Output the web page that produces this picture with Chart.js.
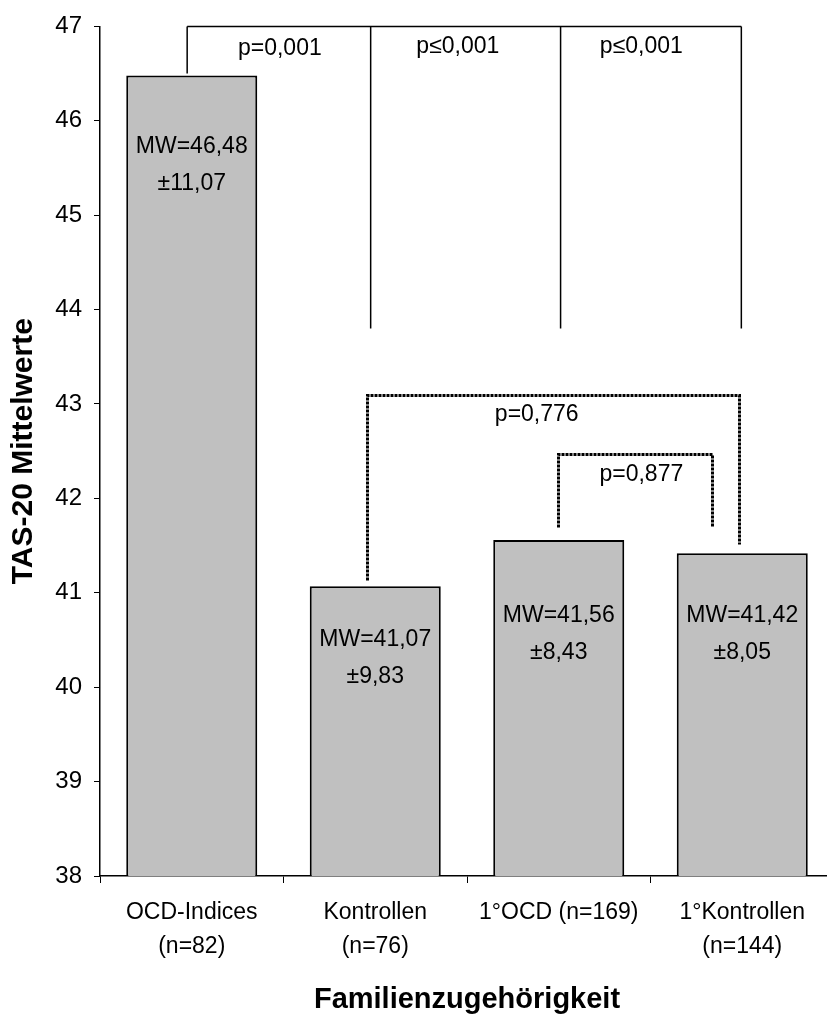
<!DOCTYPE html>
<html>
<head>
<meta charset="utf-8">
<script src="https://cdn.jsdelivr.net/npm/chart.js@4.4.0/dist/chart.umd.min.js"></script>
<style>
  html, body { margin: 0; padding: 0; background: #fff; overflow: hidden; }
  #wrap { width: 827px; height: 1019px; overflow: hidden; }
</style>
</head>
<body>
<div id="wrap"><canvas id="tasChart" width="834" height="1019"></canvas></div>
<script>
// chart data
const categories = [['OCD-Indices', '(n=82)'], ['Kontrollen', '(n=76)'], '1°OCD (n=169)', ['1°Kontrollen', '(n=144)']];
const means = [46.48, 41.07, 41.56, 41.42];
const sds = [11.07, 9.83, 8.43, 8.05];
const yMin = 38;
const yMax = 47;
const pSolid = ['p=0,001', 'p≤0,001', 'p≤0,001'];
const pDotted = ['p=0,776', 'p=0,877'];

const FONT = "'Liberation Sans', Arial, sans-serif";

function fmt(v) {
    return v.toFixed(2).replace('.', ',');
}

// where the annotations sit (category index / axis value)
const solidBracket = { top: 47, legs: [-0.025, 0.975, 2.01, 2.995], legEnds: [46.5, 43.8, 43.8, 43.8] };
const solidLabels = [[0.48, 46.76], [1.45, 46.79], [2.45, 46.79]];
const dottedBrackets = [
    { left: 0.955, right: 2.98, top: 43.10, leftEnd: 41.14, rightEnd: 41.52 },
    { left: 1.995, right: 2.835, top: 42.47, leftEnd: 41.70, rightEnd: 41.70 }
];
const dottedLabels = [[1.88, 42.89], [2.45, 42.25]];
const mwLineY = [45.73, 40.50, 40.76, 40.76];

const annotations = {
    id: 'annotations',
    afterDatasetsDraw(chart) {
        const ctx = chart.ctx;
        const x = chart.scales.x;
        const y = chart.scales.y;
        const px = v => x.getPixelForValue(v);
        const py = v => y.getPixelForValue(v);
        const snap = v => Math.round(v) + 0.5;

        ctx.save();
        ctx.strokeStyle = '#000';
        ctx.fillStyle = '#000';

        // solid bracket on top
        ctx.lineWidth = 1.5;
        ctx.beginPath();
        const legs = solidBracket.legs;
        ctx.moveTo(px(legs[0]), py(solidBracket.top));
        ctx.lineTo(px(legs[legs.length - 1]), py(solidBracket.top));
        legs.forEach((l, i) => {
            ctx.moveTo(px(l), py(solidBracket.top));
            ctx.lineTo(px(l), py(solidBracket.legEnds[i]));
        });
        ctx.stroke();

        // dotted brackets
        ctx.lineWidth = 3;
        ctx.setLineDash([3, 1]);
        dottedBrackets.forEach(b => {
            ctx.beginPath();
            ctx.moveTo(snap(px(b.left)), snap(py(b.leftEnd)));
            ctx.lineTo(snap(px(b.left)), snap(py(b.top)));
            ctx.lineTo(snap(px(b.right)), snap(py(b.top)));
            ctx.lineTo(snap(px(b.right)), snap(py(b.rightEnd)));
            ctx.stroke();
        });
        ctx.setLineDash([]);

        ctx.font = '23px ' + FONT;
        ctx.textAlign = 'center';
        ctx.textBaseline = 'middle';
        solidLabels.forEach((p, i) => ctx.fillText(pSolid[i], px(p[0]), py(p[1])));
        dottedLabels.forEach((p, i) => ctx.fillText(pDotted[i], px(p[0]), py(p[1])));

        // mean / sd inside bars
        means.forEach((m, i) => {
            const cx = px(i);
            const cy = py(mwLineY[i]);
            ctx.fillText('MW=' + fmt(m), cx, cy);
            ctx.fillText('±' + fmt(sds[i]), cx, cy + 37);
        });
        ctx.restore();
    }
};

new Chart(document.getElementById('tasChart'), {
    type: 'bar',
    data: {
        labels: categories,
        datasets: [{
            data: means,
            backgroundColor: '#c0c0c0',
            borderColor: '#000',
            borderWidth: 2,
            barPercentage: 0.714,
            categoryPercentage: 1
        }]
    },
    options: {
        responsive: false,
        animation: false,
        devicePixelRatio: 1,
        layout: { padding: { top: 22, left: 0, right: 0, bottom: 0 } },
        plugins: {
            legend: { display: false },
            tooltip: { enabled: false }
        },
        scales: {
            x: {
                grid: { offset: true, drawOnChartArea: false, tickLength: 7, color: '#000', lineWidth: 1 },
                border: { color: '#000', width: 1.5 },
                ticks: { color: '#000', font: { family: FONT, size: 23, lineHeight: 1.5 }, padding: 12, maxRotation: 0, autoSkip: false },
                title: { display: true, text: 'Familienzugehörigkeit', color: '#000', font: { family: FONT, size: 29, weight: 'bold' }, padding: { top: 0, bottom: 2 } },
                afterFit(scale) { scale.height = 143; }
            },
            y: {
                min: yMin,
                max: yMax,
                grid: { drawOnChartArea: false, tickLength: 6, color: '#000', lineWidth: 1 },
                border: { color: '#000', width: 1.5 },
                ticks: { stepSize: 1, color: '#000', font: { family: FONT, size: 24 }, padding: 12 },
                title: { display: true, text: 'TAS-20 Mittelwerte', color: '#000', font: { family: FONT, size: 30, weight: 'bold' }, padding: { top: 6, bottom: 0 } },
                afterFit(scale) { scale.width = 100; }
            }
        }
    },
    plugins: [annotations]
});
</script>
</body>
</html>
